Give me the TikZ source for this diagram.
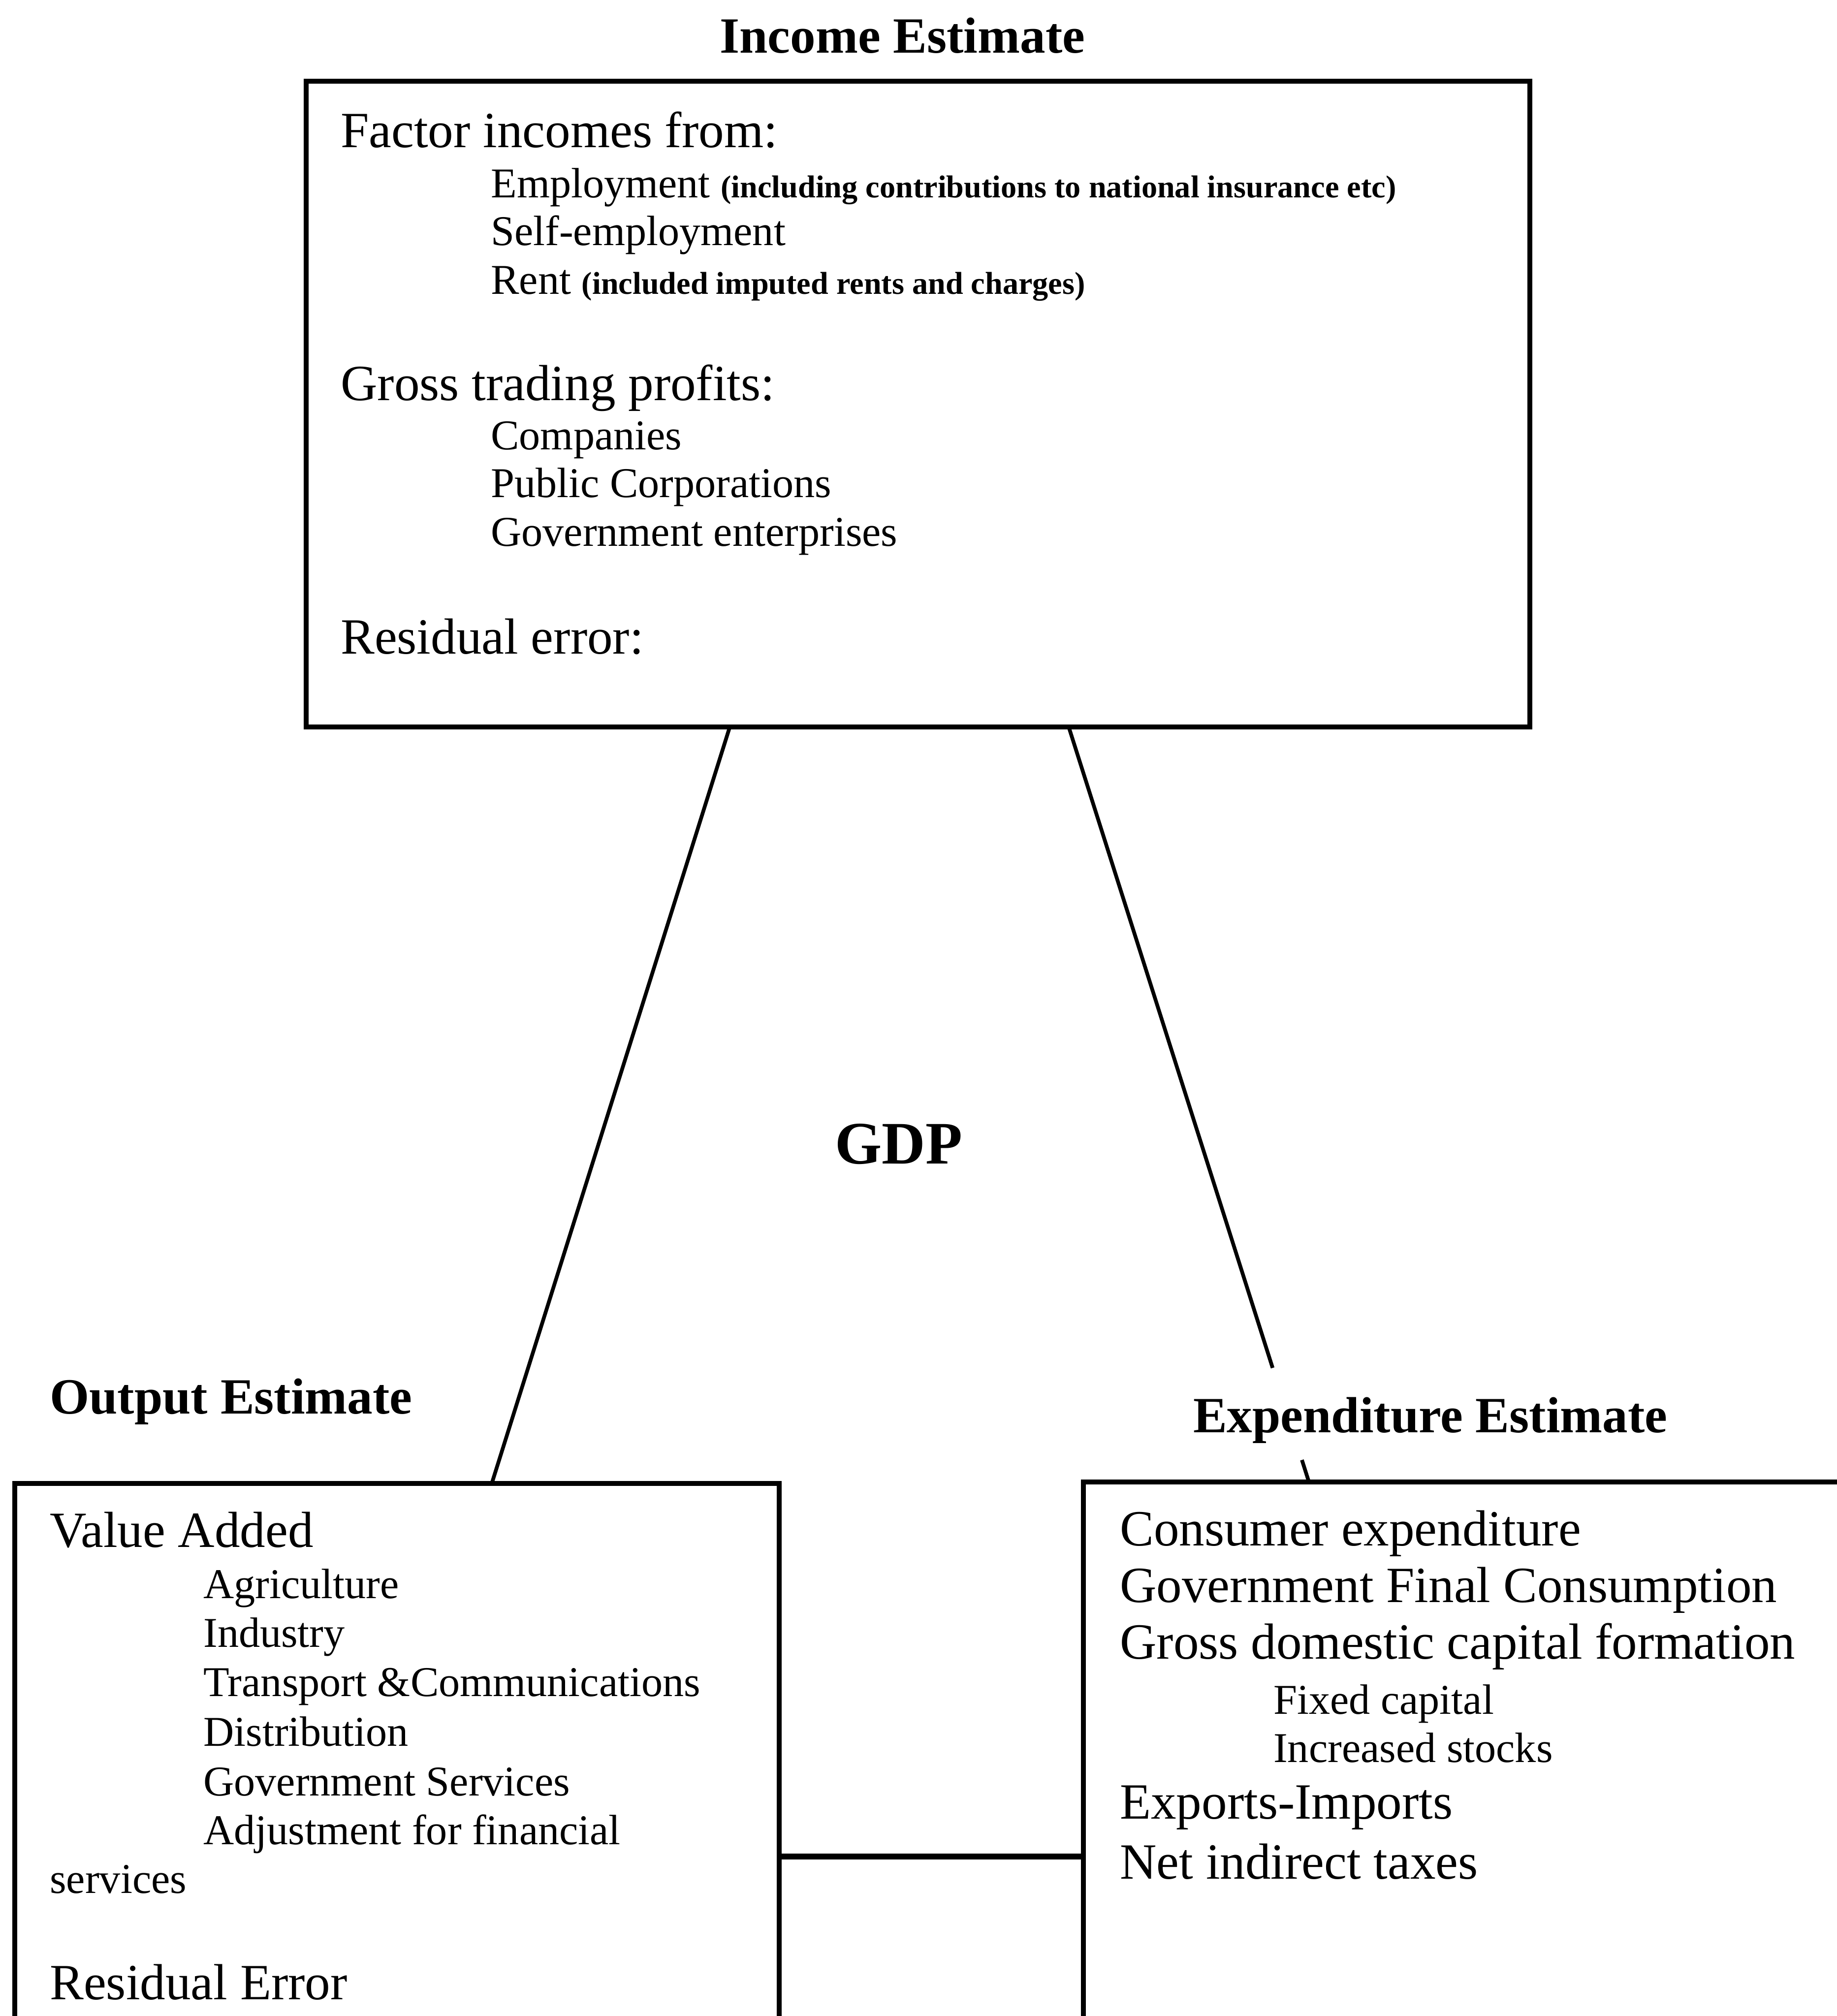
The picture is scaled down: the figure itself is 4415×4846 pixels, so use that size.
\documentclass[tikz,border=0pt]{standalone}
\usepackage{fontspec}
\setmainfont{Liberation Serif}
\usetikzlibrary{calc}

\tikzset{
  panel/.style={draw, line width=1.2pt, rectangle, anchor=north west, inner sep=0pt, outer sep=0pt},
  head/.style={font=\fontsize{12.2}{14}\selectfont\bfseries, inner sep=0pt, anchor=base west},
  item/.style={font=\fontsize{12.2}{14}\selectfont, inner sep=0pt, anchor=base west},
  subitem/.style={font=\fontsize{10.2}{12}\selectfont, inner sep=0pt, anchor=base west},
  link/.style={line width=0.9pt},
}
\newcommand{\smallnote}[1]{{\fontsize{7.6}{9}\selectfont\bfseries #1}}

\begin{document}
\begin{tikzpicture}[x=0.1pt, y=-0.1pt]
\useasboundingbox (0,0) rectangle (4415,4846);

% the three estimate boxes
\node[panel, minimum width=294.1pt, minimum height=155.3pt] (inc) at (736,195) {};
\node[panel, minimum width=183.7pt, minimum height=129pt]   (out) at (36,3566) {};
\node[panel, minimum width=187.6pt, minimum height=129.4pt] (exp) at (2604,3562) {};

% titles
\node[head, anchor=base] (ttlInc) at (2169,127) {Income Estimate};
\node[head] (ttlOut) at (118,3398) {Output Estimate};
\node[head] (ttlExp) at (2866,3443) {Expenditure Estimate};
\node[font=\fontsize{14.5}{17}\selectfont\bfseries, inner sep=0pt, anchor=base] (gdp) at (2160,2797) {GDP};

% income side
\node[item] (fac) at (817,354) {Factor incomes from:};
\node[subitem] (fac1) at (1178,475) {Employment \smallnote{(including contributions to national insurance etc)}};
\node[subitem] (fac2) at (1178,590) {Self-employment};
\node[subitem] (fac3) at (1178,707) {Rent \smallnote{(included imputed rents and charges)}};
\node[item] (gtp) at (817,962) {Gross trading profits:};
\foreach \txt/\y [count=\i] in {Companies/1081, Public Corporations/1195, Government enterprises/1313}
  \node[subitem] (gtp\i) at (1178,\y) {\txt};
\node[item] (resI) at (817,1572) {Residual error:};

% output side
\node[item] (va) at (118,3719) {Value Added};
\foreach \txt/\y [count=\i] in {Agriculture/3842, Industry/3959, Transport \&Communications/4077,
    Distribution/4197, Government Services/4316, Adjustment for financial/4434}
  \node[subitem] (va\i) at (487,\y) {\txt};
\node[subitem] (va7) at (118,4551) {services};
\node[item] (resO) at (118,4806) {Residual Error};

% expenditure side
\node[item] (ce) at (2690,3715) {Consumer expenditure};
\node[item] (gfc) at (2690,3852) {Government Final Consumption};
\node[item] (gdcf) at (2690,3988) {Gross domestic capital formation};
\node[subitem] (gdcf1) at (3059,4120) {Fixed capital};
\node[subitem] (gdcf2) at (3059,4236) {Increased stocks};
\node[item] (xm) at (2690,4372) {Exports-Imports};
\node[item] (nit) at (2690,4517) {Net indirect taxes};

% connectors
\coordinate (iL) at ([xshift=-45.25pt]inc.south);
\coordinate (iR) at ([xshift=36.25pt]inc.south);
\coordinate (oT) at ([xshift=22.75pt]out.north);
\coordinate (eT) at ([xshift=-39.6pt]exp.north);
\coordinate (lk) at (0,4463);
\draw[link] (iL) -- (oT);
\draw[link] (iR) -- ($(iR)!0.849!(eT)$) ($(iR)!0.971!(eT)$) -- (eT);
\draw[line width=1.4pt] (out.east |- lk) -- (exp.west |- lk);
\end{tikzpicture}
\end{document}
